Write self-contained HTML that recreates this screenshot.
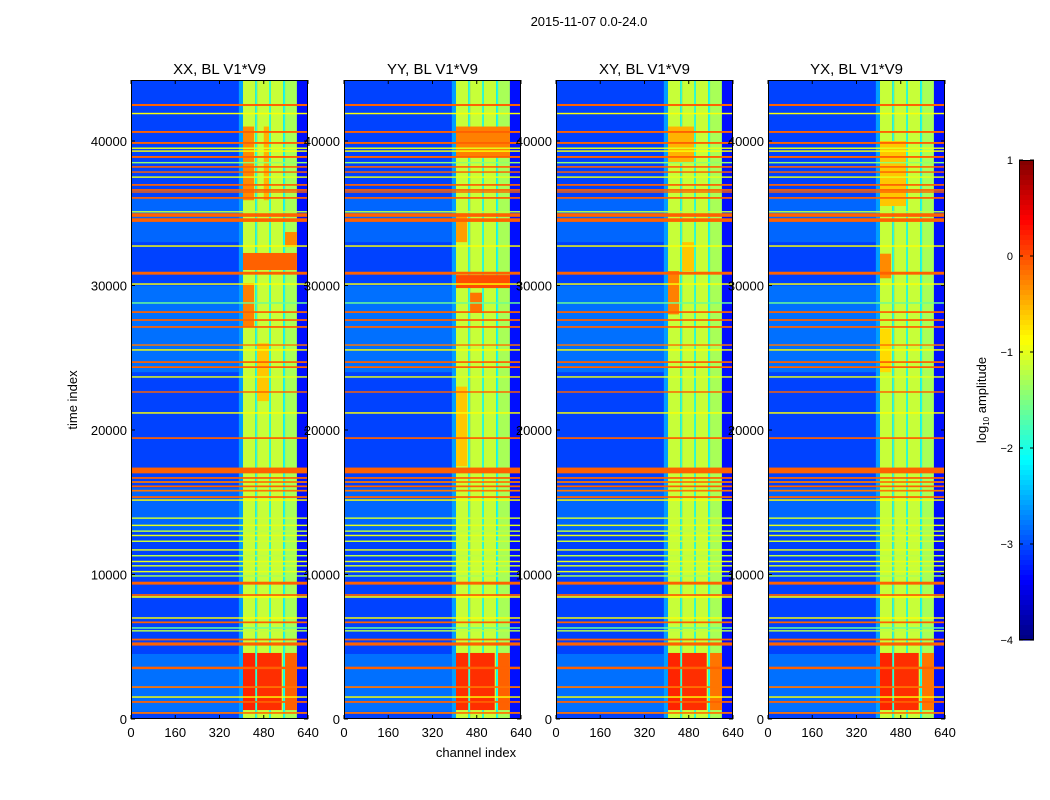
<!DOCTYPE html>
<html><head><meta charset="utf-8"><style>
body{margin:0;background:#fff;font-family:"Liberation Sans",sans-serif;}
#wrap{position:relative;width:1050px;height:800px;overflow:hidden;}
svg text{font-family:"Liberation Sans",sans-serif;fill:#000;}
</style></head><body>
<div id="wrap">
<svg id="fig" width="1050" height="800"></svg>
</div>
<script>
// ---- data ----
const panelTitles = ["XX, BL V1*V9","YY, BL V1*V9","XY, BL V1*V9","YX, BL V1*V9"];
const xTicks = [0,160,320,480,640];
const yTicks = [0,10000,20000,30000,40000];
const cbTicks = [1,0,-1,-2,-3,-4];
const bgLevel = -3.05;
// band columns: [ch0, ch1, log10 amplitude]
const bandCols = [[390,405,-2.6],[405,449,-1.15],[449,456,-1.9],[456,499,-1.15],[499,506,-1.9],[506,550,-1.15],[550,557,-2.0],[557,600,-1.3],[600,640,-3.3]];
// RFI rows shared by all panels: [t0, t1, value]
const rfiRows = [[42420,42560,-0.1],[41850,41950,-0.9],[40560,40690,-0.1],[39800,39930,-0.1],[39450,39550,-1.0],[39250,39350,-0.9],[38830,38960,-0.1],[38450,38550,-1.4],[38150,38260,-0.1],[37800,37900,-0.1],[37450,37550,-1.0],[36900,37020,-0.1],[36550,36670,-0.1],[36420,36520,-0.1],[36000,36120,-0.1],[35050,35150,-1.2],[34750,35000,-0.1],[34400,34650,-0.1],[32680,32780,-0.9],[30750,30950,-0.1],[30050,30150,-0.9],[28740,28840,-1.6],[28100,28220,-0.1],[27550,27670,-0.1],[27070,27190,-0.1],[25830,25930,-0.2],[25490,25590,-0.9],[24640,24760,-0.1],[24290,24410,-0.1],[23620,23720,-1.0],[22580,22680,-0.1],[21130,21230,-0.9],[19380,19500,-0.1],[17000,17400,-0.1],[16620,16740,-0.1],[16340,16460,-0.2],[16040,16160,-0.1],[15740,15860,-0.2],[15300,15420,-0.1],[15100,15200,-0.9],[13850,13950,-1.1],[13350,13450,-1.0],[12950,13050,-1.2],[12650,12750,-1.0],[12250,12350,-1.1],[11650,11750,-1.0],[11250,11350,-1.2],[10850,10950,-1.0],[10550,10650,-1.1],[10150,10250,-1.0],[9850,9950,-1.3],[9300,9500,-0.1],[8520,8640,-0.1],[8390,8500,-0.9],[6940,7040,-0.9],[6630,6750,-0.1],[6250,6350,-1.6],[6050,6150,-1.2],[5440,5560,-0.1],[5080,5300,-0.1],[3450,3620,-0.1],[2150,2270,-0.2],[1470,1570,-0.9],[1120,1240,-0.1],[360,480,-0.2]];
// per-panel band blocks: [ch0, ch1, t0, t1, value]
const blocksXX = [[405,449,620,4570,0.2],[456,545,620,4570,0.15],[557,600,620,4570,-0.1],[405,445,35900,41000,-0.3],[480,499,35900,41000,-0.5],[405,600,31070,32250,-0.1],[557,600,32660,33700,-0.3],[405,445,27130,30170,-0.25],[456,499,22000,26000,-0.6]];
const blocksYY = [[405,449,620,4570,0.15],[456,545,620,4570,0.15],[557,600,620,4570,-0.1],[405,600,38900,41000,-0.25],[405,600,29820,30720,0.0],[456,499,28100,29500,-0.2],[405,445,33000,35000,-0.4],[405,445,17500,23000,-0.6]];
const blocksXY = [[405,449,620,4570,0.2],[456,545,620,4570,0.15],[557,600,620,4570,-0.2],[405,445,28000,31000,-0.25],[405,499,38500,41000,-0.5],[456,499,31000,33000,-0.6]];
const blocksYX = [[405,449,620,4570,0.2],[456,545,620,4570,0.15],[557,600,620,4570,-0.2],[405,445,30500,32200,-0.3],[405,499,35500,40000,-0.6],[405,445,24000,27000,-0.7]];
const panelBlocks = [blocksXX, blocksYY, blocksXY, blocksYX];
// faint brighter noise patches: [ch0, ch1, t0, t1, value]
const bgPatches = [[0,390,24000,30000,-2.6],[0,390,13000,16000,-2.7],[0,390,500,4500,-2.6],[0,390,33000,36000,-2.7]];

// ---- geometry ----
const NS="http://www.w3.org/2000/svg";
const svg=document.getElementById('fig');
const panelX=[131,344,556,768], PW=177, PT=80, PB=719, TMAX=44220;
function jet(v){const n=Math.max(0,Math.min(1,(v+4)/5));const c=x=>Math.round(255*Math.max(0,Math.min(1,x)));
 return `rgb(${c(1.5-Math.abs(4*n-3))},${c(1.5-Math.abs(4*n-2))},${c(1.5-Math.abs(4*n-1))})`;}
function el(tag,attrs,parent){const e=document.createElementNS(NS,tag);for(const k in attrs)e.setAttribute(k,attrs[k]);(parent||svg).appendChild(e);return e;}
function txt(x,y,s,size,anchor,parent){const t=el('text',{x:x,y:y,'font-size':size,'text-anchor':anchor||'middle'},parent);t.textContent=s;return t;}

const sup=txt(589,26,"2015-11-07 0.0-24.0",13);



panelX.forEach((x0,p)=>{
  const xs=ch=>x0+ch/640*PW;
  const ys=t=>PB-t/TMAX*(PB-PT);
  const g=el('g',{});
  
  
  const cp=el('clipPath',{id:'cp'+p},g);el('rect',{x:x0,y:PT,width:PW,height:PB-PT},cp);
  const hm=el('g',{'clip-path':'url(#cp'+p+')'},g);
  
  
  el('rect',{x:x0,y:PT,width:PW,height:PB-PT,fill:jet(bgLevel)},hm);
  bgPatches.forEach(b=>{el('rect',{x:xs(b[0]),y:ys(b[3]),width:xs(b[1])-xs(b[0]),height:ys(b[2])-ys(b[3]),fill:jet(b[4]),opacity:0.5},hm);});
  bandCols.forEach(b=>{const r=el('rect',{x:xs(b[0]),y:PT,width:xs(b[1])-xs(b[0]),height:PB-PT,fill:jet(b[2])},hm);
    });
  panelBlocks[p].forEach(b=>{const r=el('rect',{x:xs(b[0]),y:ys(b[3]),width:xs(b[1])-xs(b[0]),height:ys(b[2])-ys(b[3]),fill:jet(b[4])},hm);
    });
  rfiRows.forEach(r=>{const h=Math.max(1.2,ys(r[0])-ys(r[1]));const e=el('rect',{x:x0,y:ys(r[1]),width:PW,height:h,fill:jet(r[2])},hm);
    });
  el('rect',{x:x0+0.5,y:PT+0.5,width:PW-1,height:PB-PT-1,fill:'none',stroke:'#000','stroke-width':1},g);
  xTicks.forEach(v=>{const x=xs(v);el('line',{x1:x,x2:x,y1:PB,y2:PB-4,stroke:'#000'},g);el('line',{x1:x,x2:x,y1:PT,y2:PT+4,stroke:'#000'},g);
    const t=txt(x,737,String(v),13,'middle',g);});
  yTicks.forEach(v=>{const y=ys(v);el('line',{x1:x0,x2:x0+4,y1:y,y2:y,stroke:'#000'},g);el('line',{x1:x0+PW,x2:x0+PW-4,y1:y,y2:y,stroke:'#000'},g);
    const t=txt(x0-4,y+5,String(v),13,'end',g);});
  const tt=txt(x0+PW/2,74,panelTitles[p],15,'middle',g);
  
  
});
const xl=txt(476,757,"channel index",13);


const yl=txt(0,0,"time index",13);
yl.setAttribute('transform','translate(77,400) rotate(-90)');



// colorbar
const cb=el('g',{});


const CX=1019,CW=15,CT=160,CBB=640;
for(let i=0;i<96;i++){const v=1-5*(i+0.5)/96;el('rect',{x:CX,y:CT+i*(CBB-CT)/96,width:CW,height:(CBB-CT)/96+0.6,fill:jet(v)},cb);}
el('rect',{x:CX+0.5,y:CT+0.5,width:CW-1,height:CBB-CT-1,fill:'none',stroke:'#000'},cb);
cbTicks.forEach(v=>{const y=CT+(1-v)/5*(CBB-CT);el('line',{x1:CX,x2:CX+4,y1:y,y2:y,stroke:'#000'},cb);el('line',{x1:CX+CW,x2:CX+CW-4,y1:y,y2:y,stroke:'#000'},cb);
  const t=txt(1013,y+4,(v<0?'\u2212':'')+Math.abs(v),11,'end',cb);});
const cl=el('text',{transform:'translate(986,400) rotate(-90)','font-size':13,'text-anchor':'middle'},cb);


cl.innerHTML='log<tspan font-size="8" dy="3">10</tspan><tspan dy="-3"> amplitude</tspan>';
</script>
</body></html>
